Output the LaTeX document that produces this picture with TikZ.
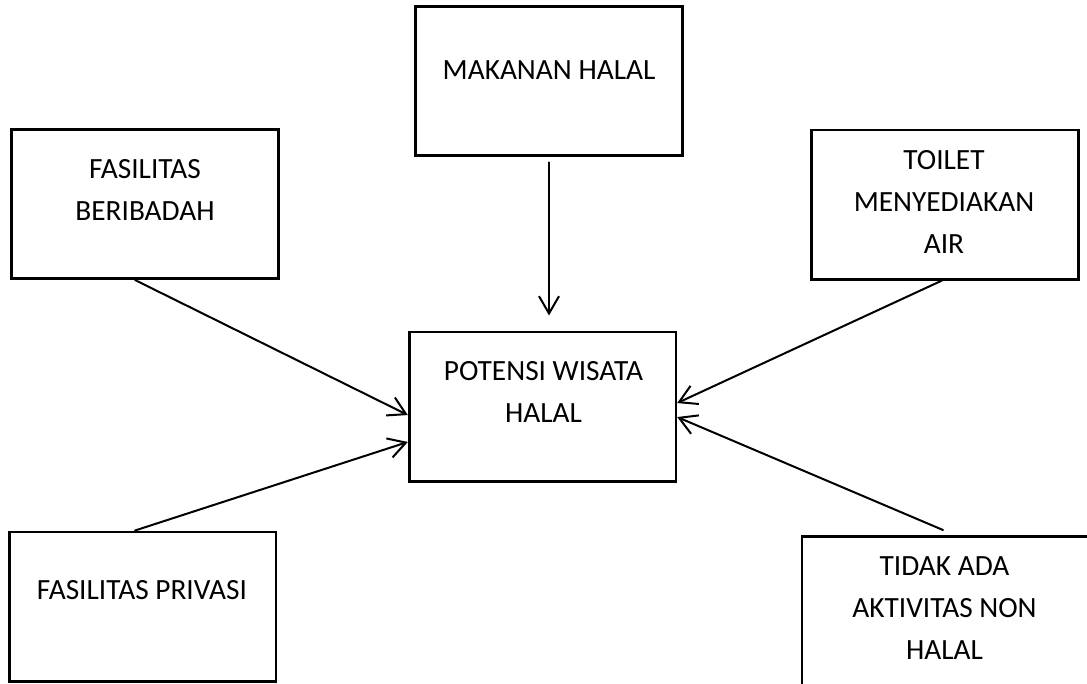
\documentclass[tikz,border=0pt]{standalone}
\usepackage{fontspec}
\setmainfont{Carlito}
\usetikzlibrary{arrows.meta,calc}

\begin{document}
\begin{tikzpicture}[
			x=0.75pt, y=-0.75pt,
			factor/.style={draw, line width=2pt, line join=miter, minimum width=200pt, minimum height=112pt, inner sep=0pt},
			caption/.style={font=\fontsize{22}{31.5}\selectfont, align=center, inner sep=0pt},
			link/.style={line width=1.5pt, -{Straight Barb[length=13pt, width=15pt]}},
			line cap=round,
			line join=round
			]
			\clip (0,0) rectangle (1087,683);
			
			% boxes
			\node[factor] (makanan) at (549,81) {};
			\node[factor] (beribadah) at (145,204) {};
			\node[factor] (toilet) at (945,204.5) {};
			\node[factor] (potensi) at (542.5,406.5) {};
			\node[factor] (privasi) at (142.5,606.5) {};
			\node[factor, minimum width=216pt] (tidak) at (946,611) {};
			
			% texts
			\node[caption] (makanan-txt) at (549,70) {MAKANAN HALAL};
			\node[caption] (beribadah-txt) at (145,190) {FASILITAS\\BERIBADAH};
			\node[caption] (toilet-txt) at (944,201.5) {TOILET\\MENYEDIAKAN\\AIR};
			\node[caption] (potensi-txt) at (543.5,391.5) {POTENSI WISATA\\HALAL};
			\node[caption] (privasi-txt) at (142,590) {FASILITAS PRIVASI};
			\node[caption] (tidak-txt) at (944.5,608.5) {TIDAK ADA\\AKTIVITAS NON\\HALAL};
			
			% arrows
			\draw[link] ([yshift=-4pt]makanan.south) -- ($(makanan.south |- potensi.north)+(0,-15)$);
			\draw[link] ([xshift=-7.5pt]beribadah.south) -- ([yshift=-6.4pt]potensi.west);
			\draw[link] ([xshift=-5.6pt]privasi.north) -- ([yshift=-26.6pt]potensi.west);
			\draw[link] ([xshift=-2.25pt]toilet.south) -- ([yshift=2.6pt]potensi.east);
			\draw[link] ([xshift=-2.25pt, yshift=3.75pt]tidak.north) -- ([yshift=-7.9pt]potensi.east);
		\end{tikzpicture}
\end{document}
